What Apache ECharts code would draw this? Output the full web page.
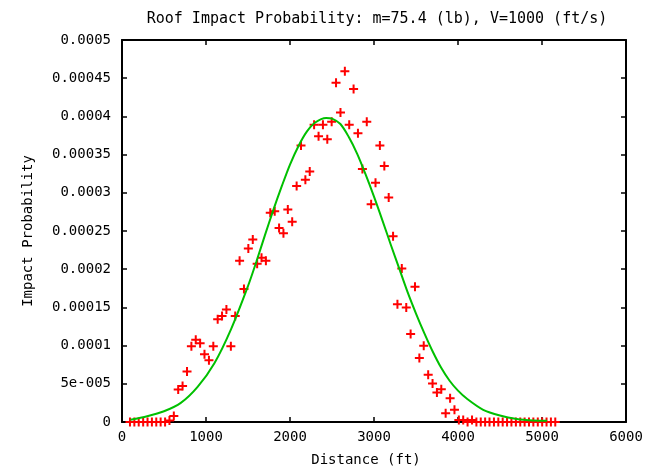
<!DOCTYPE html>
<html>
<head>
<meta charset="utf-8">
<script src="https://cdn.jsdelivr.net/npm/echarts@6/dist/echarts.min.js"></script>
<style>
html,body{margin:0;padding:0;background:#fff;}
#chart{width:660px;height:472px;}
</style>
</head>
<body>
<div id="chart"></div>
<script>
// Measured points (distance in ft, impact probability)
var distances = [95,147,199,252,304,356,408,460,513,565,617,669,721,774,826,878,930,982,1035,1087,
  1139,1191,1243,1296,1348,1400,1452,1504,1557,1609,1661,1713,1765,1818,1870,1922,1974,2026,2079,2131,
  2183,2235,2287,2340,2392,2444,2496,2548,2601,2653,2705,2757,2809,2862,2914,2966,3018,3070,3123,3175,
  3227,3279,3331,3384,3436,3488,3540,3592,3645,3697,3749,3801,3853,3906,3958,4010,4062,4114,4167,4219,
  4271,4323,4375,4428,4480,4532,4584,4636,4689,4741,4793,4845,4897,4950,5002,5054,5106,5158];
var probabilities = [0,0,0,0,0,0,0,0,0,0.000002,0.000008,0.0000426,0.000047,0.000066,0.000099,0.0001075,0.000103,0.0000886,0.0000807,0.000099,
  0.0001344,0.0001387,0.0001474,0.000099,0.0001387,0.000211,0.000174,0.000227,0.000239,0.000207,0.000215,0.000211,0.000274,0.000276,0.000254,0.000247,0.000278,0.000262,0.000309,0.000362,
  0.000317,0.000328,0.000389,0.000374,0.000389,0.000370,0.000393,0.000444,0.000405,0.000459,0.000389,0.000436,0.000378,0.000331,0.000393,0.000285,0.000313,0.000362,0.000335,0.000294,
  0.000243,0.000154,0.000201,0.000150,0.0001153,0.000177,0.0000838,0.0000997,0.000062,0.0000504,0.0000387,0.000043,0.0000114,0.000031,0.000016,0.0000025,0.0000025,0,0.0000025,0,
  0,0,0,0,0,0,0,0,0,0,0,0,0,0,0,0,0,0];

// Fitted curve
var curveX = [100,300,500,700,900,1100,1300,1500,1600,1700,1800,1900,2000,2100,2200,2300,2430,2500,2600,2700,2800,2900,3000,3100,3200,3300,3400,3500,3600,3700,3800,3900,4000,4100,4300,4500,4700,4900,5060];
var curveY = [3.0e-6,7.5e-6,1.4e-5,2.5e-5,4.6e-5,7.7e-5,1.22e-4,1.78e-4,2.10e-4,2.44e-4,2.77e-4,3.08e-4,3.37e-4,3.61e-4,3.80e-4,3.92e-4,3.98e-4,3.97e-4,3.90e-4,3.73e-4,3.51e-4,3.24e-4,2.95e-4,2.64e-4,2.32e-4,2.01e-4,1.70e-4,1.42e-4,1.16e-4,9.2e-5,7.1e-5,5.4e-5,4.1e-5,3.1e-5,1.6e-5,8.5e-6,4.0e-6,2.0e-6,1.5e-6];

var yTickLabels = ['0','5e-005','0.0001','0.00015','0.0002','0.00025','0.0003','0.00035','0.0004','0.00045','0.0005'];
var xTickLabels = ['0','1000','2000','3000','4000','5000','6000'];

var titleText = 'Roof Impact Probability: m=75.4 (lb), V=1000 (ft/s)';
var xName = 'Distance (ft)';
var yName = 'Impact Probability';

var FONT = 'DejaVu Sans Mono';
var chart = echarts.init(document.getElementById('chart'), null, {renderer:'canvas'});

var pointData = distances.map(function(d,i){return [d, probabilities[i]];});
var curveData = curveX.map(function(d,i){return [d, curveY[i]];});

var plusPath = 'path://M3.5,0h2v3.5h3.5v2h-3.5v3.5h-2v-3.5h-3.5v-2h3.5z';

function xAxisCfg(pos, main){
  return {
    type:'value', position:pos, min:0, max:6000, interval:1000,
    name: main ? xName : '', nameLocation:'middle', nameGap:31,
    nameTextStyle:{fontFamily:FONT, fontSize:14, color:'#000', padding:[0,16,0,0]},
    axisLine:{show:true, onZero:false, lineStyle:{color:'#000', width:2}},
    axisTick:{show:true, inside:true, length:5, lineStyle:{color:'#000', width:1.5}},
    axisLabel:{show:main, margin:8, fontFamily:FONT, fontSize:14, color:'#000',
      formatter:function(v,i){return xTickLabels[i];}},
    splitLine:{show:false}
  };
}
function yAxisCfg(pos, main){
  return {
    type:'value', position:pos, min:0, max:0.0005, interval:0.00005,
    name: main ? yName : '', nameLocation:'middle', nameGap:87, nameRotate:90,
    nameTextStyle:{fontFamily:FONT, fontSize:14, color:'#000'},
    axisLine:{show:true, onZero:false, lineStyle:{color:'#000', width:2}},
    axisTick:{show:true, inside:true, length:5, lineStyle:{color:'#000', width:1.5}},
    axisLabel:{show:main, margin:11, fontFamily:FONT, fontSize:14, color:'#000',
      formatter:function(v,i){return yTickLabels[i];}},
    splitLine:{show:false}
  };
}

chart.setOption({
  animation:false,
  backgroundColor:'#fff',
  title:{text:titleText, left:372, top:7, textAlign:'center',
    textStyle:{fontFamily:FONT, fontSize:15, fontWeight:'normal', color:'#000'}},
  grid:{left:122, top:40, width:504, height:386, show:false},
  xAxis:[xAxisCfg('bottom', true), xAxisCfg('top', false)],
  yAxis:[yAxisCfg('left', true), yAxisCfg('right', false)],
  series:[
    {type:'scatter', xAxisIndex:0, yAxisIndex:0, data:pointData,
      symbol:plusPath, symbolSize:9, itemStyle:{color:'#ff0000', opacity:1}, z:2},
    {type:'line', xAxisIndex:0, yAxisIndex:0, data:curveData, smooth:0.3, showSymbol:false,
      symbol:'none', lineStyle:{color:'#00c000', width:2}, z:3}
  ]
});
</script>
</body>
</html>
